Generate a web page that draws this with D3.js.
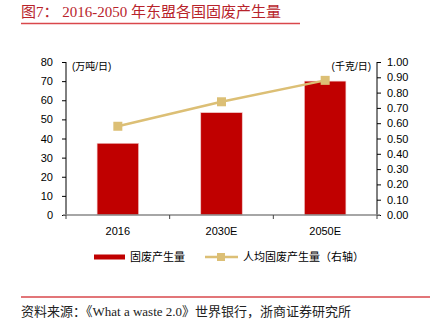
<!DOCTYPE html>
<html><head><meta charset="utf-8">
<script src="https://cdn.jsdelivr.net/npm/d3@7"></script>
<style>body{margin:0;background:#fff}svg{display:block}</style>
</head><body>
<script>
const categories = ["2016", "2030E", "2050E"];
const wasteTotal = [37.5, 53.5, 70];
const wastePerCapita = [0.58, 0.74, 0.88];
const leftTicks = [0,10,20,30,40,50,60,70,80];
const rightTicks = [0,0.1,0.2,0.3,0.4,0.5,0.6,0.7,0.8,0.9,1.0];

const W = 439, H = 322;
const svg = d3.select("body").append("svg").attr("width", W).attr("height", H);
const sans = "'Liberation Sans', Arial, 'Noto Sans CJK SC', sans-serif";
const serif = "'Liberation Serif', 'Times New Roman', 'Noto Sans CJK SC', serif";

// title
svg.append("text").attr("x", 21).attr("y", 17).attr("fill", "#B8232B")
  .style("font-family", serif).style("font-size", "15px")
  .text("图7：  2016-2050 年东盟各国固废产生量");
svg.append("line").attr("x1", 21).attr("x2", 300).attr("y1", 23.5).attr("y2", 23.5)
  .attr("stroke", "#D9474B").attr("stroke-width", 1.5);

const x0 = 66, x1 = 377, yTop = 62, yBot = 215;
const x = d3.scaleBand().domain(categories).range([x0, x1]);
const yL = d3.scaleLinear().domain([0, 80]).range([yBot, yTop]);
const yR = d3.scaleLinear().domain([0, 1]).range([yBot, yTop]);

// bars
const bw = x.bandwidth() * 0.4;
svg.append("g").selectAll("rect").data(categories).join("rect")
  .attr("x", d => x(d) + x.bandwidth()/2 - bw/2)
  .attr("width", bw)
  .attr("y", (d,i) => yL(wasteTotal[i]))
  .attr("height", (d,i) => yBot - yL(wasteTotal[i]))
  .attr("fill", "#C00000").attr("stroke", "#F0C8C8").attr("stroke-width", 0.6);

// left axis
const gL = svg.append("g").attr("transform", `translate(${x0},0)`)
  .call(d3.axisLeft(yL).tickValues(leftTicks).tickSize(4).tickPadding(9).tickFormat(d3.format("d")));
// right axis
const gR = svg.append("g").attr("transform", `translate(${x1},0)`)
  .call(d3.axisRight(yR).tickValues(rightTicks).tickSize(4).tickPadding(6).tickFormat(d3.format(".2f")));
[gL, gR].forEach(g => {
  g.select(".domain").attr("stroke", "#000").attr("d", `M0,${yTop}V${yBot}`);
  g.selectAll(".tick line").attr("stroke", "#000");
  g.selectAll("text").style("font-family", sans).style("font-size", "11px").attr("fill", "#000");
});

// x axis
const gX = svg.append("g").attr("transform", `translate(0,${yBot})`)
  .call(d3.axisBottom(x).tickSize(0).tickPadding(12));
gX.select(".domain").attr("stroke", "#888").attr("stroke-width", 1.5).attr("d", `M${x0-3},0H${x1+3}`);
gX.selectAll("text").style("font-family", sans).style("font-size", "11px").attr("fill", "#000");
const bounds = [x0, x0 + x.step(), x0 + 2*x.step(), x1];
svg.append("g").selectAll("line").data(bounds).join("line")
  .attr("x1", d => d).attr("x2", d => d).attr("y1", yBot).attr("y2", yBot + 4)
  .attr("stroke", "#444");

// unit labels
svg.append("text").attr("x", 72).attr("y", 70).style("font-family", sans).style("font-size", "10px").text("(万吨/日)");
svg.append("text").attr("x", 371).attr("y", 70).attr("text-anchor", "end").style("font-family", sans).style("font-size", "10px").text("(千克/日)");

// line
const lineColor = "#DCBF75";
const line = d3.line().x((d,i) => x(categories[i]) + x.bandwidth()/2).y(d => yR(d));
svg.append("path").datum(wastePerCapita).attr("d", line).attr("fill", "none")
  .attr("stroke", lineColor).attr("stroke-width", 2.5);
svg.append("g").selectAll("rect").data(wastePerCapita).join("rect")
  .attr("x", (d,i) => x(categories[i]) + x.bandwidth()/2 - 4.5)
  .attr("y", d => yR(d) - 4.5).attr("width", 9).attr("height", 9).attr("fill", lineColor);

// legend
const ly = 257;
svg.append("rect").attr("x", 94).attr("y", ly - 2.5).attr("width", 31).attr("height", 5).attr("fill", "#C00000");
svg.append("text").attr("x", 130).attr("y", ly + 4).style("font-family", serif).style("font-size", "11px").text("固废产生量");
svg.append("line").attr("x1", 205).attr("x2", 238).attr("y1", ly).attr("y2", ly).attr("stroke", lineColor).attr("stroke-width", 2.5);
svg.append("rect").attr("x", 217).attr("y", ly - 4).attr("width", 8).attr("height", 8).attr("fill", lineColor);
svg.append("text").attr("x", 243).attr("y", ly + 4).style("font-family", serif).style("font-size", "11px").text("人均固废产生量（右轴）");

// footer
svg.append("line").attr("x1", 21).attr("x2", 430).attr("y1", 297).attr("y2", 297)
  .attr("stroke", "#D9474B").attr("stroke-width", 1.5);
svg.append("text").attr("x", 21).attr("y", 316).attr("fill", "#222")
  .style("font-family", serif).style("font-size", "13px")
  .text("资料来源：《What a waste 2.0》世界银行，浙商证券研究所");
</script>
</body></html>
